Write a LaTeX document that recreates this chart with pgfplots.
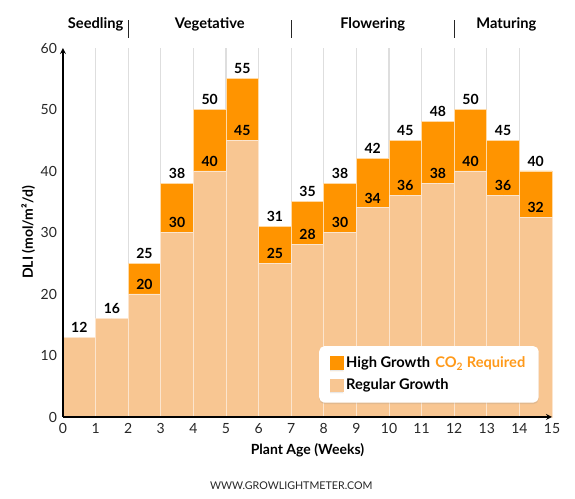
\documentclass[border=0pt]{standalone}
\usepackage{pgfplots}
\pgfplotsset{compat=1.18}
\usepackage{fontspec}
\setmainfont{Lato}
\usetikzlibrary{shadows}
\definecolor{darkor}{HTML}{FF9400}
\definecolor{lightor}{HTML}{F8C692}
\definecolor{gridc}{HTML}{DEDEDE}
\definecolor{co2}{HTML}{FF9A1A}
\begin{document}
\begin{tikzpicture}
\path[use as bounding box] (-47.25pt,-61.5pt) rectangle (384pt,312.75pt);
\begin{axis}[
  at={(0,0)}, anchor=south west,
  scale only axis, width=366.75pt, height=276.75pt,
  xmin=0, xmax=15, ymin=0, ymax=60,
  axis lines=left,
  axis line style={line width=1pt, black},
  xtick={0,1,...,15}, ytick={0,10,...,60},
  major tick length=0pt,
  tick label style={font=\fontsize{10.5}{12}\selectfont, text=black!85},
  /pgf/number format/assume math mode=true,
  xticklabel style={yshift=-1pt},
  yticklabel style={xshift=-1pt},
  xlabel={\bfseries Plant Age (Weeks)},
  ylabel={\bfseries DLI (mol/m²/d)},
  label style={font=\fontsize{10.5}{12}\selectfont},
  xlabel style={at={(axis description cs:0.5,-0.089)}, anchor=center},
  ylabel style={at={(axis description cs:-0.071,0.5)}, anchor=center},
  clip=false,
  axis on top,
  legend style={at={(axis cs:7.85,2.3)}, anchor=south west, draw=none, fill=white,
    rounded corners=4pt, drop shadow={opacity=0.18, shadow xshift=0pt, shadow yshift=-1.2pt},
    font=\bfseries\fontsize{11}{13}\selectfont, inner xsep=8pt, inner ysep=6pt,
    row sep=3pt, cells={anchor=west}},
  legend cell align=left,
]
\pgfplotsinvokeforeach{1,...,14}{\draw[gridc, line width=0.8pt] (axis cs:#1,0) -- (axis cs:#1,60);}

\addplot[ybar interval, fill=darkor, draw=white!65!darkor, line width=0.6pt,
  legend image code/.code={\fill[darkor, sharp corners] (0pt,-4.8pt) rectangle (9.6pt,4.8pt);}]
  coordinates {(0,13) (1,16) (2,25) (3,38) (4,50) (5,55) (6,31) (7,35) (8,38) (9,42) (10,45) (11,48) (12,50) (13,45) (14,40) (15,40)};
\addlegendentry{High Growth\hspace{0.35em}\textcolor{co2}{CO\textsubscript{2} Required}}

\addplot[ybar interval, fill=lightor, draw=white!55!lightor, line width=0.6pt,
  legend image code/.code={\fill[lightor, sharp corners] (0pt,-4.8pt) rectangle (9.6pt,4.8pt);}]
  coordinates {(0,13) (1,16) (2,20) (3,30) (4,40) (5,45) (6,25) (7,28) (8,30) (9,34) (10,36) (11,38) (12,40) (13,36) (14,32.5) (15,32.5)};
\addlegendentry{Regular Growth}

\addplot[forget plot, only marks, mark=*, mark size=0pt, mark options={draw=none,fill=none},
  nodes near coords, point meta=explicit symbolic,
  nodes near coords style={font=\bfseries\fontsize{10.5}{12}\selectfont, anchor=south, text=black}]
  coordinates {
   (0.5,13)[12] (1.5,16)[16]
   (2.5,20)[20] (2.5,25)[25]
   (3.5,30)[30] (3.5,38)[38]
   (4.5,40)[40] (4.5,50)[50]
   (5.5,45)[45] (5.5,55)[55]
   (6.5,25)[25] (6.5,31)[31]
   (7.5,28)[28] (7.5,35)[35]
   (8.5,30)[30] (8.5,38)[38]
   (9.5,34)[34] (9.5,42)[42]
   (10.5,36)[36] (10.5,45)[45]
   (11.5,38)[38] (11.5,48)[48]
   (12.5,40)[40] (12.5,50)[50]
   (13.5,36)[36] (13.5,45)[45]
   (14.5,32.5)[32] (14.5,40)[40]
  };

\node[font=\bfseries\fontsize{11}{13}\selectfont] at (axis cs:1,63.8) {Seedling};
\node[font=\bfseries\fontsize{11}{13}\selectfont] at (axis cs:4.5,63.8) {Vegetative};
\node[font=\bfseries\fontsize{11}{13}\selectfont] at (axis cs:9.5,63.8) {Flowering};
\node[font=\bfseries\fontsize{11}{13}\selectfont] at (axis cs:13.6,63.8) {Maturing};
\draw[line width=1pt, black!85] (axis cs:2,61.7) -- (axis cs:2,64.6);
\draw[line width=1pt, black!85] (axis cs:7,61.7) -- (axis cs:7,64.6);
\draw[line width=1pt, black!85] (axis cs:12,61.7) -- (axis cs:12,64.6);
\node[font=\fontsize{8}{10}\selectfont, text=black!85] at (axis cs:7,-11.2) {WWW.GROWLIGHTMETER.COM};
\end{axis}
\end{tikzpicture}
\end{document}
